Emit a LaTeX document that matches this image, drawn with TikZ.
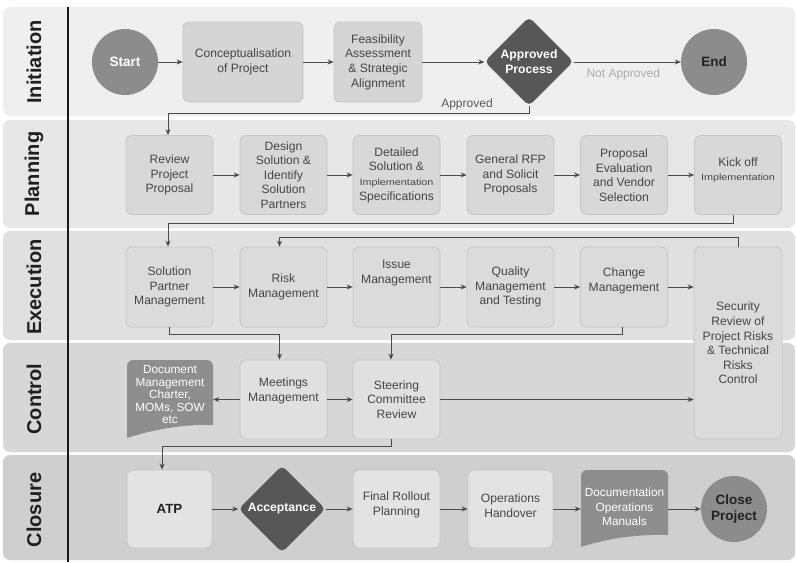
\documentclass[tikz,border=0pt]{standalone}
\usepackage{fontspec}
\setmainfont{Liberation Sans}
\newfontfamily\widefont[FakeStretch=1.2]{Liberation Sans}
\usetikzlibrary{arrows.meta,shapes.geometric}

% lane and shape colours
\definecolor{laneA}{HTML}{EFEFEF}
\definecolor{laneB}{HTML}{E7E7E7}
\definecolor{laneC}{HTML}{E0E0E0}
\definecolor{laneD}{HTML}{D7D7D7}
\definecolor{laneE}{HTML}{CFCFCF}
\definecolor{boxA}{HTML}{D5D5D5}
\definecolor{boxB}{HTML}{D8D8D8}
\definecolor{boxC}{HTML}{DBDBDB}
\definecolor{boxD}{HTML}{E0E0E0}
\definecolor{boxE}{HTML}{E3E3E3}
\definecolor{boxline}{HTML}{C6C6C6}
\definecolor{circfill}{HTML}{8C8C8C}
\definecolor{diafill}{HTML}{575757}
\definecolor{docfill}{HTML}{8E8E8E}
\definecolor{connline}{HTML}{4A4A4A}
\definecolor{boxtext}{HTML}{454545}
\definecolor{darktext}{HTML}{222222}

\newcommand\boxfont{\fontsize{12.1}{14.6}\selectfont}
\newcommand\implfont{\widefont\fontsize{9}{12}\selectfont}

\begin{document}
\begin{tikzpicture}[x=1pt,y=-1pt,
  lanelabel/.style={rotate=90, font=\bfseries\fontsize{20}{20}\selectfont, text=black!88},
  box/.style={draw=boxline, line width=0.8pt, rounded corners=6pt, minimum width=87pt,
    minimum height=79pt, inner sep=2pt, align=center, text=boxtext, font=\boxfont},
  boxtxt/.style={align=center, text=boxtext, font=\boxfont, inner sep=0pt},
  circ/.style={circle, minimum size=66pt, inner sep=0pt, fill=circfill, align=center,
    font=\bfseries\fontsize{13.5}{15.5}\selectfont},
  dia/.style={diamond, aspect=1, minimum width=88pt, minimum height=88pt, inner sep=0pt,
    fill=diafill, rounded corners=5pt, text=white, align=center,
    font=\bfseries\fontsize{12.2}{15}\selectfont},
  docshape/.style={fill=docfill},
  doctxt/.style={align=center, text=white, inner sep=0pt, minimum height=66pt},
  lbl/.style={font=\fontsize{12}{14}\selectfont, inner sep=1pt},
  conn/.style={draw=connline, line width=0.9pt, -{Stealth[length=6pt,width=5pt]}}]

\useasboundingbox (0,0) rectangle (797,562);
\fill[white] (0,0) rectangle (797,562);

% swim lanes
\fill[laneA, rounded corners=7pt] (3,7) rectangle (795,116);
\fill[laneB, rounded corners=7pt] (3,120) rectangle (795,228);
\fill[laneC, rounded corners=7pt] (3,231) rectangle (795,340);
\fill[laneD, rounded corners=7pt] (3,343) rectangle (795,452);
\fill[laneE, rounded corners=7pt] (3,455) rectangle (795,560);
\draw[line width=2pt, black!90] (68,7) -- (68,562);

\node[lanelabel] (lane-init) at (34,62) {Initiation};
\node[lanelabel] (lane-plan) at (34,174) {Planning};
\node[lanelabel] (lane-exec) at (34,287) {Execution};
\node[lanelabel] (lane-ctrl) at (34,399) {Control};
\node[lanelabel] (lane-close) at (34,510) {Closure};

% Initiation
\node[circ, text=white] (start) at (125,62) {Start};
\node[box, fill=boxA, minimum width=120pt, minimum height=80pt] (concept) at (243,62) {Conceptualisation\\of Project};
\node[box, fill=boxA, minimum width=88pt, minimum height=80pt] (feas) at (378,62) {Feasibility\\Assessment\\\& Strategic\\Alignment};
\node[dia, minimum width=89pt, minimum height=89pt] (appr) at (529,61.5) {Approved\\Process};
\node[circ, text=darktext] (end) at (714,62) {End};

\draw[conn] (start) -- (concept);
\draw[conn] (concept) -- (feas);
\draw[conn] (feas.east) -- (feas.east -| appr.west);
\draw[conn] (appr.east |- end.west) -- (end.west) node[lbl, midway, below=5pt, xshift=-4pt, text=black!33] (notappr) {Not Approved};

% Planning
\node[box, fill=boxB] (review) at (169.5,175) {Review\\Project\\Proposal};
\node[box, fill=boxB] (design) at (283.5,175) {Design\\Solution \&\\Identify\\Solution\\Partners};
\node[box, fill=boxB] (detail) at (396.5,175) {Detailed\\Solution \&\\{\implfont Implementation}\\Specifications};
\node[box, fill=boxB] (rfp) at (510.5,175) {General RFP\\and Solicit\\Proposals};
\node[box, fill=boxB] (eval) at (624,175) {Proposal\\Evaluation\\and Vendor\\Selection};
\node[box, fill=boxB] (kick) at (738,175) {};
\node[boxtxt] (kick-t) at (738,170) {Kick off\\{\implfont Implementation}};

\coordinate (j1) at (529,113);
\draw[conn] (appr.south) -- (j1) -| ([xshift=-1.5pt]review.north);
\node[lbl, text=black!65] (apprlbl) at (467,104) {Approved};

\draw[conn] (review) -- (design);
\draw[conn] (design) -- (detail);
\draw[conn] (detail) -- (rfp);
\draw[conn] (rfp) -- (eval);
\draw[conn] (eval) -- (kick);

% Execution
\node[box, fill=boxC, minimum height=80pt] (spm) at (169.5,287) {Solution\\Partner\\Management};
\node[box, fill=boxC, minimum height=80pt] (risk) at (283.5,287) {Risk\\Management};
\node[box, fill=boxC, minimum height=80pt] (issue) at (396.5,287) {};
\node[boxtxt] (issue-t) at (396.5,273) {Issue\\Management};
\node[box, fill=boxC, minimum height=80pt] (quality) at (510.5,287) {Quality\\Management\\and Testing};
\node[box, fill=boxC, minimum height=80pt] (change) at (624,287) {};
\node[boxtxt] (change-t) at (624,281) {Change\\Management};
\node[box, fill=boxC, minimum width=88pt, minimum height=192pt] (sec) at (738,343)
  {Security\\Review of\\Project Risks\\\& Technical\\Risks\\Control};

\coordinate (j2) at (733,223);
\draw[conn] (kick.south -| j2) -- (j2) -| ([xshift=-1.5pt]spm.north);

\draw[conn] (spm) -- (risk);
\draw[conn] (risk) -- (issue);
\draw[conn] (issue) -- (quality);
\draw[conn] (quality) -- (change);
\draw[conn] (change.east) -- (change.east -| sec.west);

\coordinate (j3) at (738,237);
\draw[conn] (sec.north) -- (j3) -| ([xshift=-4pt]risk.north);

% Control
\fill[docshape] (127,438) [rounded corners=6pt] -- (127,360) -- (213,360) -- (213,400)
  [sharp corners] -- (213,425) .. controls (185,424) and (155,429) .. (127,438) -- cycle;
\node[doctxt, minimum width=86pt, font=\fontsize{11.8}{12.5}\selectfont] (doc1) at (170,394.5)
  {Document\\Management\\Charter,\\MOMs, SOW\\etc};
\node[box, fill=boxD] (meet) at (283.5,399.5) {};
\node[boxtxt] (meet-t) at (283.5,391) {Meetings\\Management};
\node[box, fill=boxD] (steer) at (396.5,399.5) {Steering\\Committee\\Review};

\coordinate (y334) at (0,334);
\draw[conn] (spm.south) -- (spm.south |- y334) -| ([xshift=-4pt]meet.north);
\draw[conn] ([xshift=-2pt]change.south) -- ([xshift=-2pt]change.south |- y334) -| ([xshift=-5.5pt]steer.north);

\draw[conn] (meet.west) -- (meet.west -| doc1.east);
\draw[conn] (meet) -- (steer);
\draw[conn] (steer.east) -- (steer.east -| sec.west);

% Closure
\node[box, fill=boxE, minimum width=85pt, minimum height=78pt, text=darktext,
  font=\bfseries\fontsize{13.3}{15}\selectfont] (atp) at (169.5,509) {ATP};
\node[dia, minimum width=87pt, minimum height=87pt] (accept) at (282,509) {Acceptance};
\node[box, fill=boxE, minimum height=78pt] (final) at (396.5,509) {};
\node[boxtxt] (final-t) at (396.5,505) {Final Rollout\\Planning};
\node[box, fill=boxE, minimum width=85pt, minimum height=78pt] (handover) at (510.5,509) {};
\node[boxtxt] (handover-t) at (510.5,505.5) {Operations\\Handover};
\fill[docshape] (581,547) [rounded corners=6pt] -- (581,470) -- (668,470) -- (668,510)
  [sharp corners] -- (668,535) .. controls (640,534) and (608,538) .. (581,547) -- cycle;
\node[doctxt, minimum width=87pt, minimum height=68pt, font=\fontsize{11.8}{14.7}\selectfont] (docops) at (624.5,507)
  {Documentation\\Operations\\Manuals};
\node[circ, text=darktext] (close) at (734,509) {Close\\Project};

\coordinate (j5) at (162,446);
\draw[conn] ([xshift=-5.5pt]steer.south) |- (j5) -- (j5 |- atp.north);

\draw[conn] (atp) -- (accept);
\draw[conn] (accept) -- (final);
\draw[conn] (final) -- (handover);
\draw[conn] (handover.east) -- (handover.east -| docops.west);
\draw[conn] (close.west -| docops.east) -- (close.west);

\end{tikzpicture}
\end{document}
